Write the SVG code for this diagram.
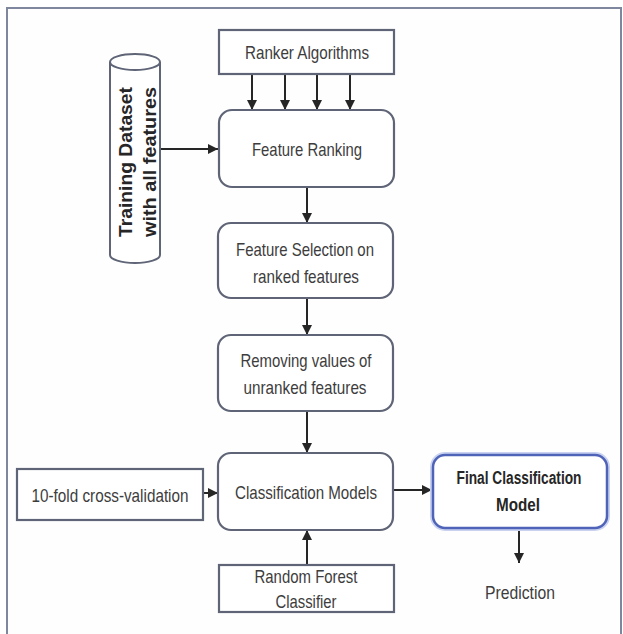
<svg xmlns="http://www.w3.org/2000/svg" width="623" height="634" viewBox="0 0 623 634">
<style>
.box{fill:#ffffff;stroke:#5f6577;stroke-width:2.2}
.t{font-family:"Liberation Sans",Arial,sans-serif;font-size:19px;fill:#3d3d3d;text-anchor:middle}
.tb{font-family:"Liberation Sans",Arial,sans-serif;font-size:18px;font-weight:bold;fill:#262626;text-anchor:middle}
.c{stroke:#262626;stroke-width:2;fill:none;marker-end:url(#ah)}
</style>
<defs>
<marker id="ah" markerUnits="userSpaceOnUse" markerWidth="10" markerHeight="10" refX="10" refY="5" orient="auto">
<path d="M0,0 L10,5 L0,10 z" fill="#262626"/>
</marker>
</defs>
<rect x="0" y="0" width="623" height="634" fill="#ffffff"/>
<rect x="7" y="8" width="614" height="640" fill="#fefefe" stroke="#7f879e" stroke-width="2"/>

<g id="connectors">
<line class="c" x1="252" y1="75" x2="252" y2="110"/>
<line class="c" x1="285" y1="75" x2="285" y2="110"/>
<line class="c" x1="317" y1="75" x2="317" y2="110"/>
<line class="c" x1="350" y1="75" x2="350" y2="110"/>
<line class="c" x1="160" y1="149" x2="218" y2="149"/>
<line class="c" x1="307" y1="188" x2="307" y2="223"/>
<line class="c" x1="307" y1="299" x2="307" y2="335"/>
<line class="c" x1="307" y1="412" x2="307" y2="453"/>
<line class="c" x1="204" y1="493" x2="218" y2="493"/>
<line class="c" x1="307" y1="565" x2="307" y2="530"/>
<line class="c" x1="394" y1="490" x2="432" y2="490"/>
<line class="c" x1="519" y1="529" x2="519" y2="563"/>
</g>

<g id="ranker">
<rect class="box" x="219" y="30" width="175" height="44"/>
<text class="t" x="307" y="59" textLength="124" lengthAdjust="spacingAndGlyphs">Ranker Algorithms</text>
</g>

<g id="dataset">
<path d="M110,62 L110,255 A25,8 0 0 0 160,255 L160,62" fill="#ffffff" stroke="#5f6577" stroke-width="2"/>
<ellipse cx="135" cy="62" rx="25" ry="8" fill="#ffffff" stroke="#5f6577" stroke-width="2"/>
<text class="tb" transform="translate(132,162) rotate(-90)" x="0" y="0" textLength="150" lengthAdjust="spacingAndGlyphs">Training Dataset</text>
<text class="tb" transform="translate(156,162) rotate(-90)" x="0" y="0" textLength="150" lengthAdjust="spacingAndGlyphs">with all features</text>
</g>

<g id="feature-ranking">
<rect class="box" x="219" y="110" width="175" height="77" rx="13"/>
<text class="t" x="307" y="156" textLength="110" lengthAdjust="spacingAndGlyphs">Feature Ranking</text>
</g>

<g id="feature-selection">
<rect class="box" x="218" y="223" width="175" height="75" rx="13"/>
<text class="t" x="305" y="256" textLength="138" lengthAdjust="spacingAndGlyphs">Feature Selection on</text>
<text class="t" x="306" y="283" textLength="106" lengthAdjust="spacingAndGlyphs">ranked features</text>
</g>

<g id="removing">
<rect class="box" x="218" y="335" width="175" height="76" rx="13"/>
<text class="t" x="306" y="367" textLength="131" lengthAdjust="spacingAndGlyphs">Removing values of</text>
<text class="t" x="305" y="394" textLength="123" lengthAdjust="spacingAndGlyphs">unranked features</text>
</g>

<g id="cross-validation">
<rect class="box" x="17" y="469" width="186" height="51"/>
<text class="t" x="110" y="502" textLength="157" lengthAdjust="spacingAndGlyphs">10-fold cross-validation</text>
</g>

<g id="classification-models">
<rect class="box" x="218" y="453" width="175" height="77" rx="13"/>
<text class="t" x="306" y="499" textLength="142" lengthAdjust="spacingAndGlyphs">Classification Models</text>
</g>

<g id="random-forest">
<rect class="box" x="219" y="565" width="175" height="47"/>
<text class="t" x="306" y="583" textLength="103" lengthAdjust="spacingAndGlyphs">Random Forest</text>
<text class="t" x="306" y="608" textLength="61" lengthAdjust="spacingAndGlyphs">Classifier</text>
</g>

<g id="final-model">
<rect x="433" y="455" width="174" height="73" rx="12" fill="none" stroke="#c9d3f0" stroke-width="6"/>
<rect x="433" y="455" width="174" height="73" rx="12" fill="#ffffff" stroke="#4f63b8" stroke-width="2.5"/>
<text class="tb" x="519" y="484" textLength="125" lengthAdjust="spacingAndGlyphs">Final Classification</text>
<text class="tb" x="518" y="511" textLength="44" lengthAdjust="spacingAndGlyphs">Model</text>
</g>

<g id="prediction">
<text class="t" x="520" y="599" textLength="70" lengthAdjust="spacingAndGlyphs">Prediction</text>
</g>
</svg>
